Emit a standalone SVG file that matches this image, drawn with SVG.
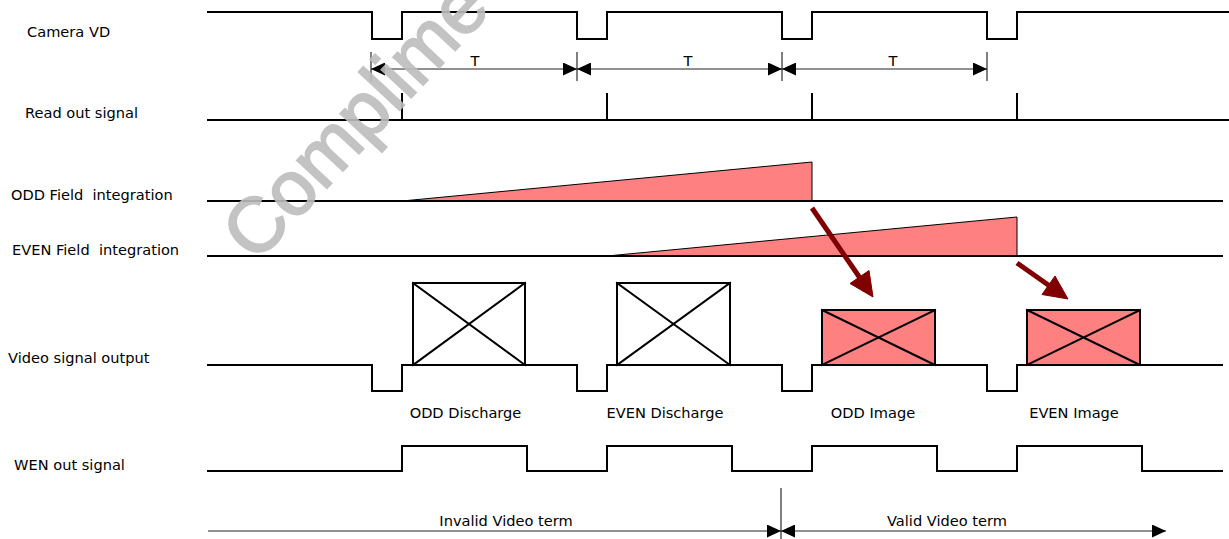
<svg xmlns="http://www.w3.org/2000/svg" width="1229" height="539" viewBox="0 0 1229 539">
<style>
  .lbl { font-family: "DejaVu Sans", Verdana, sans-serif; font-size: 14.6px; fill: #000; white-space: pre; }
  .sig { fill: none; stroke: #000; stroke-width: 2; stroke-linejoin: miter; stroke-linecap: square; }
  .thin { fill: none; stroke: #000; stroke-width: 1; }
  .dim { fill: none; stroke: #222; stroke-width: 1; }
  .ramp { fill: #FF8080; stroke: #000; stroke-width: 1; }
  .box { fill: #fff; stroke: #000; stroke-width: 2; }
  .pbox { fill: #FF8080; stroke: #000; stroke-width: 2; }
  .wm { font-family: "Liberation Sans", Arial, sans-serif; font-size: 77px; fill: #bdbdbd; stroke: #bdbdbd; stroke-width: 2; opacity: 0.9; }
</style>
<defs>
  <marker id="ah" viewBox="0 0 14 13" refX="14" refY="6.5" markerWidth="14" markerHeight="13" markerUnits="userSpaceOnUse" orient="auto-start-reverse">
    <path d="M0,0 L14,6.5 L0,13 z" fill="#000"/>
  </marker>
</defs>
<rect width="1229" height="539" fill="#fff"/>

<g id="camera-vd">
  <text class="lbl" x="27" y="37">Camera VD</text>
  <path class="sig" d="M208 12 H372 V39 H402 V12 H577 V39 H607 V12 H782 V39 H812 V12 H987 V39 H1017 V12 H1229"/>
</g>

<g id="read-out">
  <text class="lbl" x="25" y="118">Read out signal</text>
  <path class="sig" d="M208 120 H1229"/>
  <path class="sig" d="M402 94 V120 M607 94 V120 M812 94 V120 M1017 94 V120"/>
</g>

<g id="odd-integration">
  <text class="lbl" x="11" y="200">ODD Field  integration</text>
  <polygon class="ramp" points="402,201 812,162 812,201"/>
  <path class="sig" d="M208 201 H1222"/>
</g>

<g id="even-integration">
  <text class="lbl" x="12" y="255">EVEN Field  integration</text>
  <polygon class="ramp" points="607,256 1017,217 1017,256"/>
  <path class="sig" d="M208 256 H1222"/>
</g>

<g id="video-output">
  <text class="lbl" x="8" y="363">Video signal output</text>
  <g id="box-odd-discharge">
    <rect class="box" x="413" y="283" width="112" height="82"/>
    <path class="sig" d="M413 283 L525 365 M525 283 L413 365"/>
    <text class="lbl" x="465.5" y="418" text-anchor="middle">ODD Discharge</text>
  </g>
  <g id="box-even-discharge">
    <rect class="box" x="617" y="283" width="113" height="82"/>
    <path class="sig" d="M617 283 L730 365 M730 283 L617 365"/>
    <text class="lbl" x="665" y="418" text-anchor="middle">EVEN Discharge</text>
  </g>
  <g id="box-odd-image">
    <rect class="pbox" x="822" y="310" width="113" height="55"/>
    <path class="sig" d="M822 310 L935 365 M935 310 L822 365"/>
    <text class="lbl" x="873" y="418" text-anchor="middle">ODD Image</text>
  </g>
  <g id="box-even-image">
    <rect class="pbox" x="1027" y="310" width="113" height="55"/>
    <path class="sig" d="M1027 310 L1140 365 M1140 310 L1027 365"/>
    <text class="lbl" x="1074" y="418" text-anchor="middle">EVEN Image</text>
  </g>
  <path class="sig" d="M208 365 H372 V391 H402 V365 H577 V391 H607 V365 H782 V391 H812 V365 H987 V391 H1017 V365 H1222"/>
</g>

<g id="wen-out">
  <text class="lbl" x="14" y="470">WEN out signal</text>
  <path class="sig" d="M208 471 H402 V446 H527 V471 H607 V446 H732 V471 H812 V446 H937 V471 H1017 V446 H1142 V471 H1222"/>
</g>

<g id="connectors">
  <path class="thin" d="M371 52 V81 M577 52 V81 M782 52 V81 M987 52 V81"/>
  <line class="dim" x1="371" y1="69" x2="577" y2="69" marker-start="url(#ah)" marker-end="url(#ah)"/>
  <line class="dim" x1="577" y1="69" x2="782" y2="69" marker-start="url(#ah)" marker-end="url(#ah)"/>
  <line class="dim" x1="782" y1="69" x2="987" y2="69" marker-start="url(#ah)" marker-end="url(#ah)"/>
  <text class="lbl" x="475" y="66" text-anchor="middle">T</text>
  <text class="lbl" x="688" y="66" text-anchor="middle">T</text>
  <text class="lbl" x="893" y="66" text-anchor="middle">T</text>

  <g fill="#800000" stroke="#800000">
    <line x1="812" y1="208" x2="860" y2="278" stroke-width="5"/>
    <polygon points="873,297 850,283.5 869,270.5" stroke-width="1"/>
    <line x1="1017" y1="263" x2="1049" y2="285.5" stroke-width="5"/>
    <polygon points="1068,299 1042,294.5 1055,276" stroke-width="1"/>
  </g>

  <line class="thin" x1="781" y1="488" x2="781" y2="539"/>
  <line class="dim" x1="208" y1="531" x2="781" y2="531" marker-end="url(#ah)"/>
  <line class="dim" x1="781" y1="531" x2="1166" y2="531" marker-start="url(#ah)" marker-end="url(#ah)"/>
  <text class="lbl" x="506" y="526" text-anchor="middle">Invalid Video term</text>
  <text class="lbl" x="947" y="526" text-anchor="middle">Valid Video term</text>
</g>

<text class="wm" transform="translate(256 264) rotate(-47)">Complime</text>
</svg>
